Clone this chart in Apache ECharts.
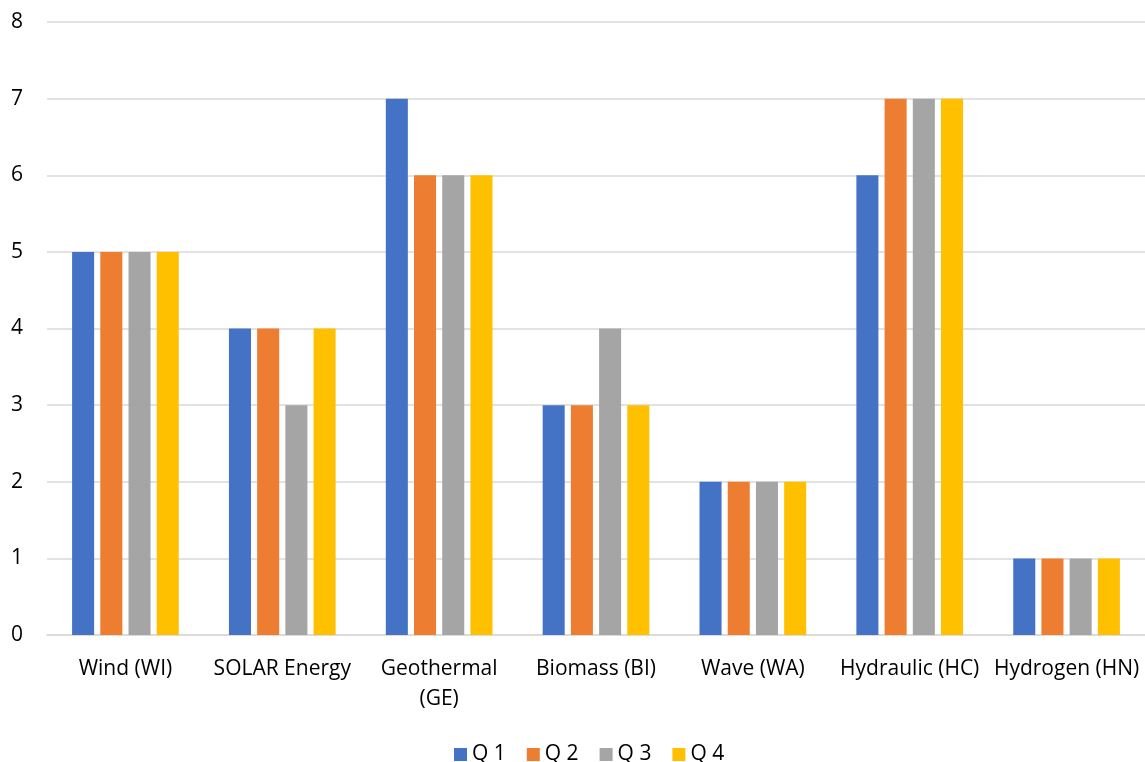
<!DOCTYPE html>
<html><head><meta charset="utf-8">
<script src="https://cdn.jsdelivr.net/npm/echarts@6/dist/echarts.min.js"></script>
<style>html,body{margin:0;padding:0;background:#fff}#c{width:1145px;height:762px}</style>
</head><body><div id="c"></div>
<script>
const categories = ['Wind (WI)', 'SOLAR Energy', 'Geothermal (GE)', 'Biomass (BI)', 'Wave (WA)', 'Hydraulic (HC)', 'Hydrogen (HN)'];
const seriesNames = ['Q 1', 'Q 2', 'Q 3', 'Q 4'];
const q1 = [5, 4, 7, 3, 2, 6, 1];
const q2 = [5, 4, 6, 3, 2, 7, 1];
const q3 = [5, 3, 6, 4, 2, 7, 1];
const q4 = [5, 4, 6, 3, 2, 7, 1];
const colors = ['#4472C4', '#ED7D31', '#A5A5A5', '#FFC000'];
const font = 'Open Sans';
const chart = echarts.init(document.getElementById('c'), null, {renderer: 'canvas'});
chart.setOption({
  animation: false,
  color: colors,
  grid: {left: 47, right: 0, top: 22, bottom: 127, containLabel: false},
  legend: {
    top: 744, left: 454, itemWidth: 13, itemHeight: 13, itemGap: 21,
    padding: 0,
    icon: 'rect',
    textStyle: {fontFamily: font, fontSize: 21, color: '#000'},
    data: seriesNames
  },
  xAxis: {
    type: 'category', data: categories,
    axisLine: {lineStyle: {color: '#d9d9d9', width: 1.5}},
    axisTick: {show: false},
    axisLabel: {
      fontFamily: font, fontSize: 21, color: '#000', margin: 19, lineHeight: 30, interval: 0,
      formatter: v => v === 'Geothermal (GE)' ? 'Geothermal\n(GE)' : v
    }
  },
  yAxis: {
    type: 'value', min: 0, max: 8, interval: 1,
    axisLine: {show: false}, axisTick: {show: false},
    splitLine: {lineStyle: {color: '#d9d9d9', width: 1.5}},
    axisLabel: {fontFamily: font, fontSize: 21, color: '#000', margin: 24}
  },
  series: [q1, q2, q3, q4].map((d, i) => ({
    name: seriesNames[i], type: 'bar', data: d,
    barGap: '28%', barCategoryGap: '32%'
  }))
});
</script></body></html>
